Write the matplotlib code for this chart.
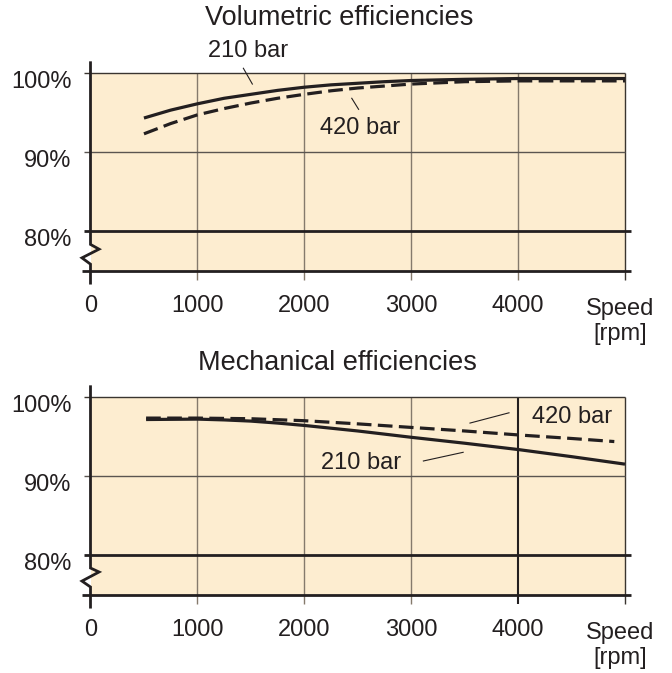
import numpy as np
import matplotlib.pyplot as plt

plt.rcParams['font.family'] = ['Liberation Sans', 'DejaVu Sans']

# speeds [rpm] and efficiencies [%]
vol_rpm = [500, 750, 1000, 1250, 1500, 1750, 2000, 2250, 2500, 2750, 3000,
           3500, 4000, 4500, 5000]
vol_210 = [94.3, 95.3, 96.1, 96.8, 97.3, 97.8, 98.2, 98.5, 98.7, 98.9, 99.05,
           99.2, 99.3, 99.3, 99.3]
vol_420 = [92.3, 93.6, 94.7, 95.5, 96.2, 96.8, 97.3, 97.75, 98.1, 98.35, 98.6,
           98.9, 99.0, 99.0, 99.0]

mech_rpm_210 = [520, 1000, 1250, 1500, 1750, 2000, 2250, 2500, 3000, 3500,
                4000, 4500, 5000]
mech_210 = [97.15, 97.2, 97.1, 96.95, 96.7, 96.4, 96.05, 95.7, 94.9, 94.15,
            93.35, 92.45, 91.5]
mech_rpm_420 = [520, 1000, 1500, 2000, 2500, 3000, 3500, 4000, 4500, 4900]
mech_420 = [97.33, 97.33, 97.25, 97.0, 96.6, 96.15, 95.7, 95.2, 94.75, 94.36]

xticks = [0, 1000, 2000, 3000, 4000]
yticks = [100, 90, 80]
ytick_labels = ['100%', '90%', '80%']

TXT = '#231f20'
FILL = '#fdedd0'
GRID = '#857a6c'


def draw_panel(ax, title, title_xy, x1, y1, x2, y2, labels, bold4000=False, zig=None):
    ax.set_xlim(0, 5000)
    ax.set_ylim(75, 100)
    ax.axis('off')
    kw = dict(clip_on=False, solid_capstyle='butt')
    ax.fill_between([0, 5000], 75, 100, color=FILL, lw=0, zorder=0)
    # vertical grid
    for x in [1000, 2000, 3000]:
        ax.plot([x, x], [73.8, 100], color=GRID, lw=1.0, zorder=1, **kw)
    ax.plot([4000, 4000], [73.8, 100], color=TXT if bold4000 else GRID,
            lw=1.5 if bold4000 else 1.0, zorder=1, **kw)
    ax.plot([5000, 5000], [73.8, 100], color='#3a3530', lw=1.0, zorder=1, **kw)
    # horizontal lines
    ax.plot([-60, 5000], [100, 100], color='#3a3530', lw=1.0, zorder=1, **kw)
    ax.plot([-60, 5000], [90, 90], color='#5a5550', lw=1.0, zorder=1, **kw)
    ax.plot([-60, 5060], [80, 80], color=TXT, lw=2.0, zorder=2, **kw)
    ax.plot([-75, 5060], [75, 75], color=TXT, lw=2.0, zorder=2, **kw)
    # y axis with break
    zx = [0, 0, 80, -80, 0, 0]
    zy = [101.3, zig[0], zig[1], zig[2], zig[3], 73.4]
    ax.plot(zx, zy, color=TXT, lw=2.0, zorder=3, clip_on=False,
            solid_joinstyle='miter')
    # curves
    ax.plot(x1, y1, color=TXT, lw=2.3, zorder=4, solid_joinstyle='round', **kw)
    ax.plot(x2, y2, color=TXT, lw=2.3, zorder=4, dashes=(4.6, 2.0),
            clip_on=False, dash_capstyle='butt')
    # tick labels
    for x in xticks:
        ax.text(x, 70.5, str(x), ha='center', va='center', fontsize=17, color=TXT)
    for y, s in zip(yticks, ytick_labels):
        ax.text(-180, y - 1.2, s, ha='right', va='center', fontsize=17, color=TXT)
    ax.text(4956, 70.1, 'Speed', ha='center', va='center', fontsize=17, color=TXT)
    ax.text(4956, 67.0, '[rpm]', ha='center', va='center', fontsize=17, color=TXT)
    ax.text(title_xy[0], title_xy[1], title, ha='center', va='center',
            fontsize=19.5, color=TXT)
    for s, tx, ty, lx, ly in labels:
        ax.text(tx, ty, s, ha='center', va='center', fontsize=17, color=TXT)
        ax.plot(lx, ly, color=TXT, lw=0.8, zorder=5, clip_on=False)


fig = plt.figure(figsize=(6.72, 6.73), dpi=100)
W, H = 672, 673
left = 90.5 / W
width = 534.5 / W
ax1 = fig.add_axes([left, (H - 270.5) / H, width, 197.5 / H])
ax2 = fig.add_axes([left, (H - 594.5) / H, width, 197.5 / H])

draw_panel(ax1, 'Volumetric efficiencies', (2324, 106.9),
           vol_rpm, vol_210, vol_rpm, vol_420,
           [('210 bar', 1470, 102.75, [1430, 1514], [100.6, 98.6]),
            ('420 bar', 2524, 93.0, [2444, 2508], [96.8, 95.4])],
           zig=(78.3, 77.7, 76.6, 75.8))

draw_panel(ax2, 'Mechanical efficiencies', (2312, 104.3),
           mech_rpm_210, mech_210, mech_rpm_420, mech_420,
           [('420 bar', 4506, 97.5, [3550, 3915], [96.7, 98.0]),
            ('210 bar', 2530, 91.7, [3114, 3486], [91.9, 93.0])],
           bold4000=True, zig=(78.35, 77.85, 76.7, 75.95))

fig.savefig('out.png', dpi=100, facecolor='white')
